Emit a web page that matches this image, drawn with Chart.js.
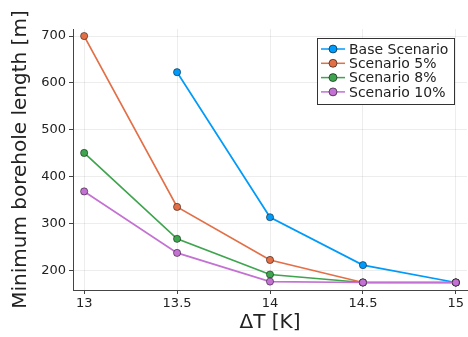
<!DOCTYPE html>
<html>
<head>
<meta charset="utf-8">
<script src="https://cdn.jsdelivr.net/npm/chart.js@4"></script>
<style>
  html, body { margin: 0; padding: 0; background: #fff; }
  #wrap { width: 468px; height: 337px; }
</style>
</head>
<body>
<div id="wrap"><canvas id="boreChart" width="468" height="337"></canvas></div>
<script>
const deltaT = [13, 13.5, 14, 14.5, 15];
const baseScenario = [null, 623, 314, 212, 175];
const scenario5 = [700, 336, 223, 175, 175];
const scenario8 = [451, 268, 192, 175, 175];
const scenario10 = [369, 238, 177, 175, 175];
const yTicks = [200, 300, 400, 500, 600, 700];

const seriesNames = ['Base Scenario', 'Scenario 5%', 'Scenario 8%', 'Scenario 10%'];
const seriesColors = ['#009AFA', '#E36F47', '#3EA44E', '#C371D2'];
const seriesData = [baseScenario, scenario5, scenario8, scenario10];

const FONT = '"DejaVu Sans", sans-serif';

// Julia-style legend box with line + marker
const juliaLegend = {
    id: 'juliaLegend',
    afterDraw(chart) {
        const c = chart.ctx;
        const x0 = 317, y0 = 38, w = 137, h = 66;
        c.save();
        c.fillStyle = '#fff';
        c.fillRect(x0, y0, w, h);
        c.strokeStyle = '#333';
        c.lineWidth = 1;
        c.strokeRect(x0 + 0.5, y0 + 0.5, w, h);
        c.font = '14px ' + FONT;
        c.textBaseline = 'middle';
        seriesNames.forEach((name, i) => {
            const y = 49 + i * 14.3;
            c.strokeStyle = seriesColors[i];
            c.lineWidth = 1.5;
            c.beginPath();
            c.moveTo(321, y);
            c.lineTo(345, y);
            c.stroke();
            c.beginPath();
            c.arc(333, y, 4, 0, Math.PI * 2);
            c.fillStyle = seriesColors[i];
            c.fill();
            c.strokeStyle = 'rgba(0,0,0,0.7)';
            c.lineWidth = 0.8;
            c.stroke();
            c.fillStyle = '#222';
            c.fillText(name, 349, y + 1);
        });
        c.restore();
    }
};

function createBoreChart() {
    const ctx = document.getElementById('boreChart').getContext('2d');

    new Chart(ctx, {
        type: 'line',
        data: {
            datasets: seriesData.map((vals, i) => ({
                label: seriesNames[i],
                data: deltaT.map((t, j) => ({ x: t, y: vals[j] })).filter(p => p.y !== null),
                borderColor: seriesColors[i],
                backgroundColor: seriesColors[i],
                pointBackgroundColor: seriesColors[i],
                pointBorderColor: 'rgba(0,0,0,0.6)',
                pointBorderWidth: 0.8,
                pointRadius: 3.6,
                borderWidth: 1.7,
                tension: 0,
                clip: false,
                order: seriesNames.length - i   // later series drawn on top, like Plots.jl
            }))
        },
        options: {
            responsive: false,
            animation: false,
            layout: { autoPadding: false, padding: { top: 29, right: 1, left: 0, bottom: 0 } },
            plugins: {
                legend: { display: false },
                tooltip: { enabled: false }
            },
            scales: {
                x: {
                    type: 'linear',
                    min: 12.94,
                    max: 15.06,
                    afterBuildTicks: axis => { axis.ticks = deltaT.map(v => ({ value: v })); },
                    afterFit: axis => {
                        axis.height = 47;
                        axis.paddingLeft = 0;
                        axis.paddingRight = 0;
                    },
                    ticks: {
                        color: '#222',
                        font: { family: FONT, size: 13 },
                        padding: 2,
                        maxRotation: 0,
                        callback: v => String(v)
                    },
                    grid: { color: 'rgba(0,0,0,0.07)', tickLength: 4, tickColor: '#444' },
                    border: { color: '#444', width: 1 },
                    title: {
                        display: true,
                        text: 'ΔT [K]',
                        color: '#222',
                        font: { family: FONT, size: 20 },
                        padding: { top: 0, bottom: 2 }
                    }
                },
                y: {
                    min: 159,
                    max: 715,
                    afterBuildTicks: axis => { axis.ticks = yTicks.map(v => ({ value: v })); },
                    afterFit: axis => {
                        axis.width = 73;
                        axis.paddingTop = 0;
                        axis.paddingBottom = 0;
                    },
                    ticks: {
                        color: '#222',
                        font: { family: FONT, size: 13 },
                        padding: 3
                    },
                    grid: { color: 'rgba(0,0,0,0.07)', tickLength: 4, tickColor: '#444' },
                    border: { color: '#444', width: 1 },
                    title: {
                        display: true,
                        text: 'Minimum borehole length [m]',
                        color: '#222',
                        font: { family: FONT, size: 20 },
                        padding: { top: 9, bottom: 0 }
                    }
                }
            }
        },
        plugins: [juliaLegend]
    });
}

document.addEventListener('DOMContentLoaded', () => {
    createBoreChart();
});
</script>
</body>
</html>
